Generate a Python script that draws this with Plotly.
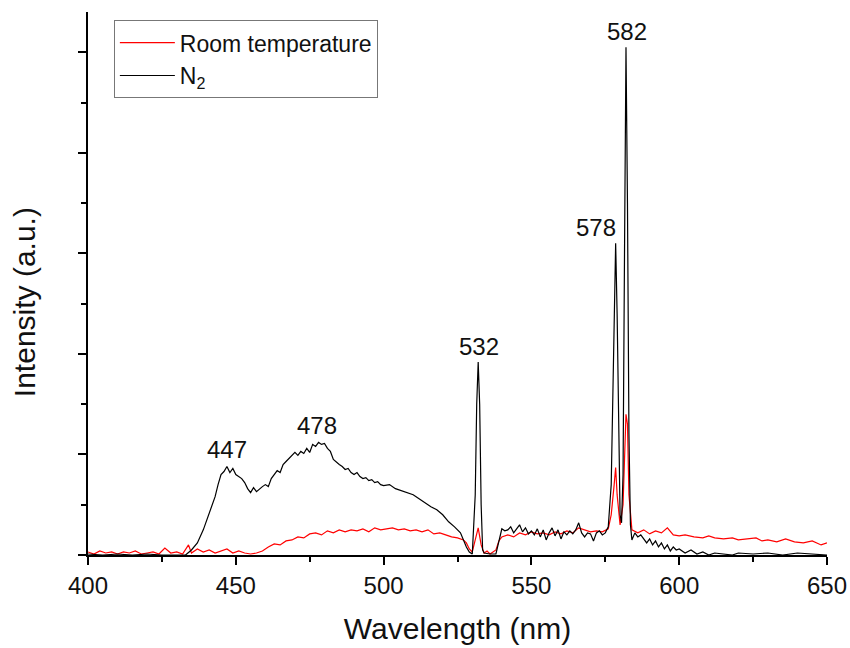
import plotly.graph_objects as go

# N2 spectrum (wavelength nm, intensity a.u.)
n2_x = [400, 405, 410, 415, 420, 425, 430, 433, 435, 437, 439, 441, 443, 444, 445, 446, 447, 448, 449, 450,
        451, 452, 453, 454, 455, 456, 457, 458, 459, 460, 461, 462, 463, 464, 465, 466, 467, 468, 469, 470,
        471, 472, 473, 474, 475, 476, 477, 478, 479, 480, 481, 482, 483, 484, 485, 486, 487, 488, 489, 490,
        491, 492, 493, 494, 495, 496, 497, 498, 499, 500, 502, 504, 506, 508, 510, 512, 514, 516, 518, 520,
        522, 524, 526, 527, 528, 529, 530, 531, 531.5, 532, 532.5, 533, 533.5, 534, 536, 538, 539, 540, 541, 542,
        543, 544, 545, 546, 547, 548, 549, 550, 551, 552, 553, 554, 555, 556, 557, 558, 559, 560, 561, 562,
        563, 564, 565, 566, 567, 568, 569, 570, 571, 572, 573, 574, 575, 576, 577, 578, 578.5, 579, 579.5, 580,
        580.5, 581, 581.5, 582, 582.5, 583, 583.5, 584, 585, 586, 587, 588, 589, 590, 591, 592, 593, 594, 595, 596,
        597, 598, 599, 600, 602, 604, 606, 608, 610, 612, 615, 618, 620, 625, 630, 635, 640, 645, 650]
n2_y = [0.01, 0.00, 0.01, 0.00, 0.01, 0.00, 0.00, 0.00, 0.05, 0.12, 0.25, 0.42, 0.58, 0.70, 0.80, 0.83, 0.88, 0.82, 0.86, 0.80,
        0.78, 0.76, 0.72, 0.66, 0.62, 0.67, 0.63, 0.66, 0.68, 0.70, 0.68, 0.76, 0.80, 0.84, 0.82, 0.90, 0.93, 0.96, 0.99, 1.02,
        0.99, 1.03, 1.01, 1.06, 1.02, 1.10, 1.08, 1.12, 1.10, 1.11, 1.06, 1.03, 0.95, 0.92, 0.90, 0.88, 0.85, 0.86, 0.82, 0.80,
        0.82, 0.78, 0.76, 0.77, 0.74, 0.75, 0.72, 0.73, 0.70, 0.69, 0.70, 0.66, 0.64, 0.62, 0.60, 0.56, 0.52, 0.48, 0.45, 0.40,
        0.33, 0.28, 0.22, 0.15, 0.08, 0.03, 0.01, 0.60, 1.50, 1.92, 1.50, 0.50, 0.05, 0.02, 0.01, 0.01, 0.15, 0.26, 0.24, 0.25,
        0.28, 0.22, 0.26, 0.30, 0.23, 0.27, 0.21, 0.24, 0.20, 0.26, 0.18, 0.25, 0.15, 0.22, 0.27, 0.19, 0.25, 0.16, 0.23, 0.20,
        0.24, 0.21, 0.25, 0.32, 0.22, 0.18, 0.22, 0.21, 0.14, 0.22, 0.24, 0.20, 0.22, 0.28, 0.70, 2.20, 3.10, 2.40, 1.20, 0.40,
        0.32, 0.80, 3.00, 5.05, 3.50, 1.20, 0.30, 0.15, 0.22, 0.18, 0.20, 0.16, 0.12, 0.16, 0.10, 0.14, 0.08, 0.12, 0.06, 0.10,
        0.04, 0.08, 0.05, 0.06, 0.02, 0.05, 0.01, 0.03, 0.00, 0.02, 0.01, 0.00, 0.02, 0.01, 0.02, 0.00, 0.02, 0.01, 0.00]

# Room temperature spectrum
rt_x = [400, 402, 404, 406, 408, 410, 412, 414, 416, 418, 420, 422, 424, 426, 428, 430, 432, 434, 435, 437,
        439, 441, 443, 445, 447, 449, 451, 453, 455, 457, 459, 461, 463, 465, 467, 469, 471, 473, 475, 477,
        479, 481, 483, 485, 487, 489, 491, 493, 495, 497, 499, 501, 503, 505, 507, 509, 511, 513, 515, 517,
        519, 521, 523, 525, 527, 528, 529, 530, 531, 532, 533, 534, 535, 536, 537, 538, 539, 540, 542, 544,
        546, 548, 550, 552, 554, 556, 558, 560, 562, 564, 566, 568, 570, 572, 574, 576, 577, 578, 578.5, 579,
        580, 581, 581.5, 582, 582.5, 583, 584, 586, 588, 590, 592, 594, 596, 598, 600, 602, 605, 608, 610, 612,
        615, 618, 620, 623, 626, 628, 630, 633, 636, 639, 642, 645, 648, 650]
rt_y = [0.03, 0.01, 0.04, 0.02, 0.03, 0.01, 0.03, 0.02, 0.04, 0.01, 0.02, 0.03, 0.01, 0.07, 0.02, 0.03, 0.01, 0.10, 0.02, 0.06,
        0.03, 0.05, 0.02, 0.04, 0.06, 0.02, 0.04, 0.02, 0.01, 0.02, 0.04, 0.08, 0.11, 0.10, 0.14, 0.15, 0.18, 0.17, 0.21, 0.22,
        0.20, 0.24, 0.22, 0.25, 0.23, 0.25, 0.24, 0.26, 0.23, 0.27, 0.25, 0.26, 0.27, 0.25, 0.26, 0.24, 0.25, 0.23, 0.25, 0.21,
        0.22, 0.20, 0.18, 0.17, 0.15, 0.12, 0.06, 0.03, 0.15, 0.27, 0.10, 0.02, 0.04, 0.01, 0.03, 0.05, 0.14, 0.18, 0.20, 0.18,
        0.22, 0.20, 0.23, 0.21, 0.22, 0.20, 0.23, 0.21, 0.24, 0.22, 0.27, 0.25, 0.23, 0.24, 0.23, 0.26, 0.40, 0.70, 0.87, 0.60,
        0.30, 0.50, 1.10, 1.40, 1.30, 0.60, 0.25, 0.22, 0.25, 0.21, 0.24, 0.22, 0.27, 0.20, 0.19, 0.20, 0.18, 0.17, 0.19, 0.17,
        0.16, 0.17, 0.15, 0.16, 0.17, 0.14, 0.15, 0.13, 0.16, 0.13, 0.12, 0.14, 0.10, 0.12]

peak_labels = ["447", "478", "532", "578", "582"]
peak_label_x = [447, 477.5, 532.3, 572, 582.3]
peak_label_y = [1.05, 1.29, 2.07, 3.26, 5.21]

FONT = "Arial, Liberation Sans, sans-serif"
TXT = "#111111"

fig = go.Figure()
fig.add_trace(go.Scatter(x=rt_x, y=rt_y, mode="lines", name="Room temperature",
                         line=dict(color="#ff0000", width=1.2)))
fig.add_trace(go.Scatter(x=n2_x, y=n2_y, mode="lines", name="N<sub>2</sub>",
                         line=dict(color="#000000", width=1.2)))

for t, x, y in zip(peak_labels, peak_label_x, peak_label_y):
    fig.add_annotation(x=x, y=y, text=t, showarrow=False,
                       font=dict(size=24, color=TXT, family=FONT))

# y-axis title (placed as rotated text to match the reference's vertical position)
fig.add_annotation(x=-0.085, y=0.466, xref="paper", yref="paper", text="Intensity (a.u.)",
                   textangle=-90, showarrow=False, xanchor="center", yanchor="middle",
                   font=dict(size=30, family=FONT, color=TXT))

fig.update_layout(
    width=850, height=648,
    margin=dict(l=88, r=23, t=12, b=93, autoexpand=False),
    paper_bgcolor="white", plot_bgcolor="white",
    font=dict(family=FONT, color=TXT),
    showlegend=True,
    legend=dict(x=0.035, y=0.985, xanchor="left", yanchor="top",
                bordercolor="#777777", borderwidth=1,
                font=dict(size=23, family=FONT, color=TXT),
                tracegroupgap=0, itemwidth=55),
    xaxis=dict(range=[400, 650], showgrid=False, zeroline=False, automargin=False,
               showline=True, linecolor="black", linewidth=2,
               ticks="outside", ticklen=8, tickwidth=2, tickcolor="black",
               dtick=50, tick0=400, ticklabelstandoff=0,
               minor=dict(ticks="outside", ticklen=5, tickwidth=2, tickcolor="black", dtick=25),
               tickfont=dict(size=24, family=FONT, color=TXT),
               title=dict(text="Wavelength (nm)", font=dict(size=30, family=FONT, color=TXT), standoff=20)),
    yaxis=dict(range=[0, 5.4], showgrid=False, zeroline=False, automargin=False,
               showline=True, linecolor="black", linewidth=2,
               ticks="outside", ticklen=8, tickwidth=2, tickcolor="black",
               dtick=1, tick0=0, showticklabels=False,
               minor=dict(ticks="outside", ticklen=5, tickwidth=2, tickcolor="black", dtick=0.5)),
)

fig.write_html("out.html")
